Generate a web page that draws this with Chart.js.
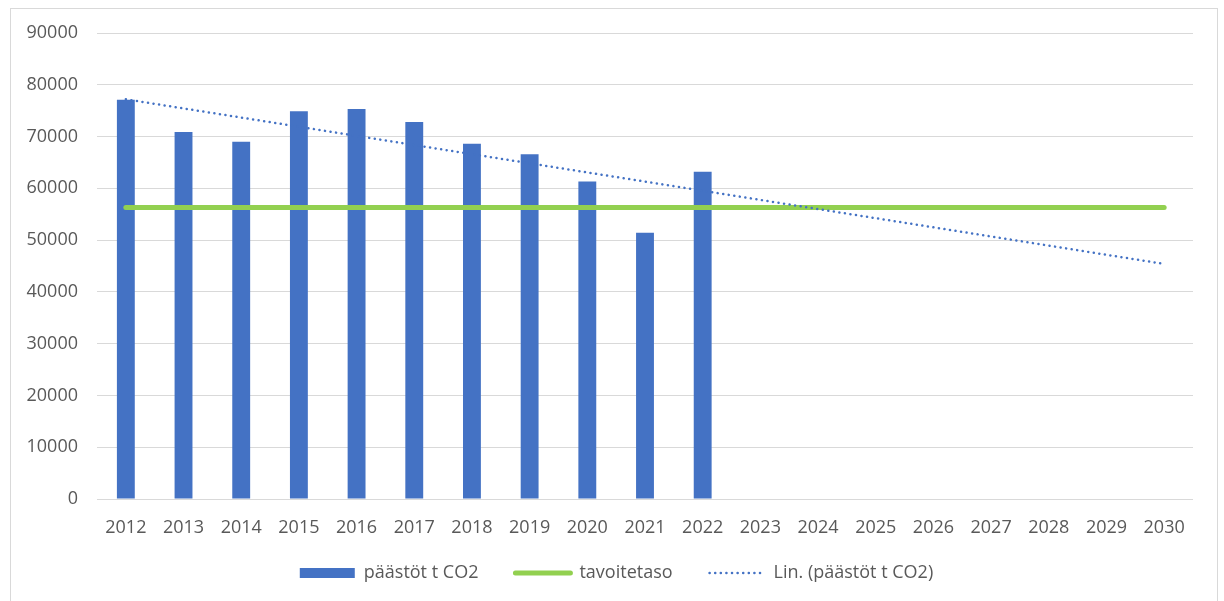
<!DOCTYPE html>
<html>
<head>
<meta charset="utf-8">
<script src="https://cdn.jsdelivr.net/npm/chart.js@4"></script>
<style>
  html, body { margin: 0; padding: 0; background: #fff; }
  #wrap { position: relative; width: 1224px; height: 601px; }
  #frame { position: absolute; left: 10px; top: 8px; width: 1208px; height: 605px; border: 1px solid #d9d9d9; box-sizing: border-box; }
  #chart { position: absolute; left: 0; top: 0; }
</style>
</head>
<body>
<div id="wrap">
  <div id="frame"></div>
  <canvas id="chart" width="1224" height="601"></canvas>
</div>
<script>
// vuodet 2012-2030
const years = ["2012", "2013", "2014", "2015", "2016", "2017", "2018", "2019", "2020", "2021",
  "2022", "2023", "2024", "2025", "2026", "2027", "2028", "2029", "2030"];
// päästöt t CO2 (luettu kuvasta)
const emissions = [77100, 70900, 69000, 74900, 75300, 72800, 68600, 66600, 61300, 51400, 63200];
// tavoitetaso
const targetLevel = 56300;
const target = years.map(() => targetLevel);
// lineaarinen trendi: alku- ja loppupiste kuvasta
const trend = [77200, null, null, null, null, null, null, null, null, null,
  null, null, null, null, null, null, null, null, 45400];
const yTicks = [0, 10000, 20000, 30000, 40000, 50000, 60000, 70000, 80000, 90000];

const blue = "#4472c4";
const green = "#92d050";
const textColor = "#595959";
const font = { family: "'Open Sans', sans-serif", size: 18 };

// pieniä asettelukorjauksia: selite oikealle, x-akselin tekstit ei saa leikkautua
const tweaks = {
  id: "tweaks",
  afterLayout(chart) {
    chart.scales.x.bottom += 16;
  },
  beforeDraw(chart) {
    chart.legend.left += 8;
    chart.legend.right += 8;
  },
};

new Chart(document.getElementById("chart").getContext("2d"), {
  type: "bar",
  plugins: [tweaks],
  data: {
    labels: years,
    datasets: [
      {
        type: "line",
        label: "Lin. (päästöt t CO2)",
        data: trend,
        spanGaps: true,
        borderColor: blue,
        borderWidth: 2.5,
        borderDash: [0.1, 5.5],
        borderCapStyle: "round",
        pointRadius: 0,
        order: 0,
      },
      {
        type: "line",
        label: "tavoitetaso",
        data: target,
        borderColor: green,
        borderWidth: 5,
        borderCapStyle: "round",
        pointRadius: 0,
        order: 1,
      },
      {
        label: "päästöt t CO2",
        data: emissions,
        backgroundColor: blue,
        barPercentage: 0.31,
        categoryPercentage: 1,
        order: 2,
      },
    ],
  },
  options: {
    responsive: false,
    animation: false,
    layout: { padding: { left: 24, right: 31, top: 33, bottom: 9 } },
    plugins: {
      tooltip: { enabled: false },
      legend: {
        position: "bottom",
        labels: {
          color: textColor,
          font: font,
          boxWidth: 55,
          boxHeight: 10,
          padding: 37,
          usePointStyle: true,
          pointStyleWidth: 55,
          generateLabels: () => [
            { text: "päästöt t CO2", fillStyle: blue, strokeStyle: blue, lineWidth: 0, pointStyle: "rect", fontColor: textColor },
            { text: "tavoitetaso", fillStyle: green, strokeStyle: green, lineWidth: 5, lineCap: "round", pointStyle: "line", fontColor: textColor },
            { text: "Lin. (päästöt t CO2)", fillStyle: blue, strokeStyle: blue, lineWidth: 2.5, lineCap: "round", lineDash: [0.1, 5.5], pointStyle: "line", fontColor: textColor },
          ],
        },
      },
    },
    scales: {
      x: {
        afterFit: (s) => { s.height = 28; },
        grid: { display: false },
        border: { display: false },
        ticks: { color: textColor, font: font, padding: 10, maxRotation: 0 },
      },
      y: {
        min: 0,
        max: 90000,
        afterFit: (s) => { s.width = 73; },
        afterBuildTicks: (s) => { s.ticks = yTicks.map((v) => ({ value: v })); },
        grid: { color: "#d9d9d9", lineWidth: 1, drawTicks: false },
        border: { display: false },
        ticks: { color: textColor, font: font, padding: 19, callback: (v) => v },
      },
    },
  },
});
</script>
</body>
</html>
